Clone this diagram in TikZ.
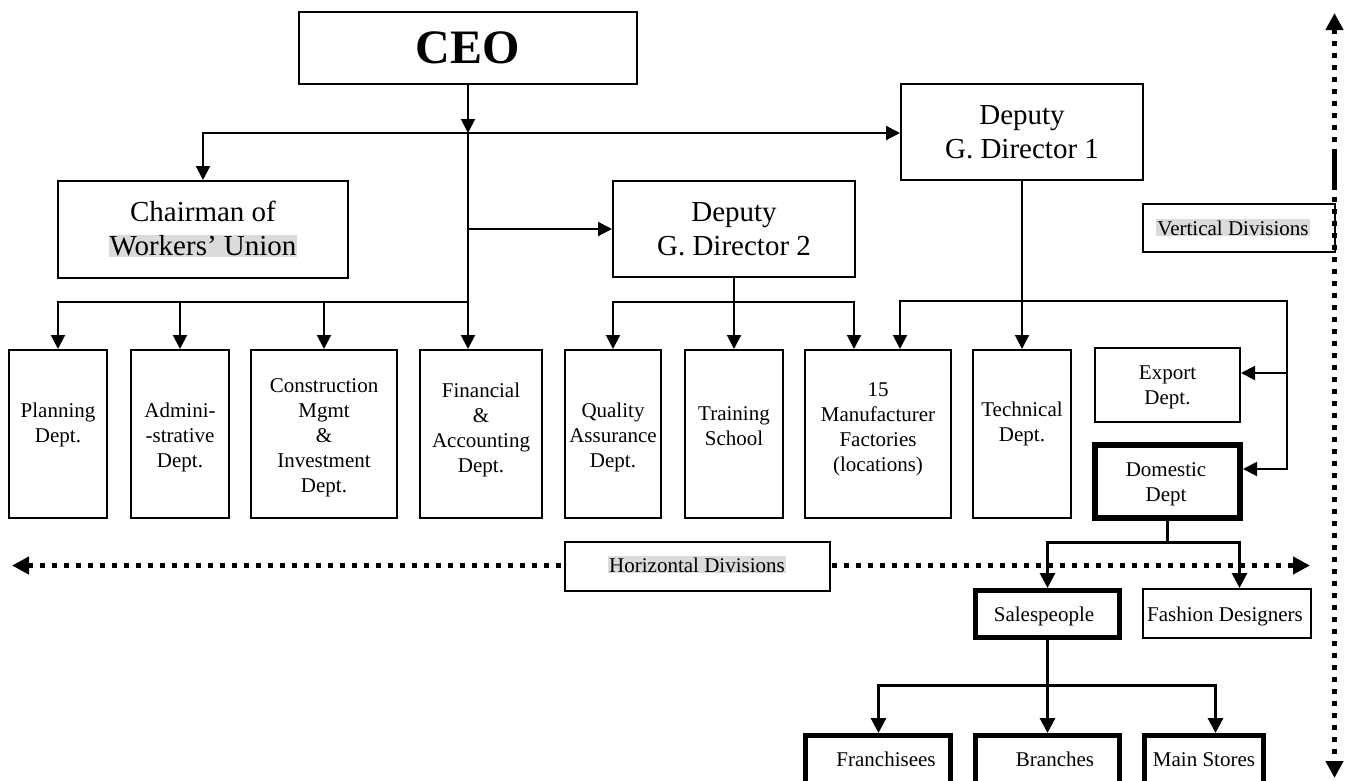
\documentclass[tikz,border=0pt]{standalone}
\usepackage{fontspec}
\setmainfont{Liberation Serif}
\usetikzlibrary{arrows.meta}
\newcommand\hlgray[1]{{\setlength\fboxsep{1pt}\colorbox{black!14}{#1}}}
\begin{document}
\begin{tikzpicture}[x=1pt,y=-1pt,
  box/.style={draw, line width=2pt, fill=white, inner sep=0pt, rectangle},
  tbox/.style={box, line width=5pt},
  conn/.style={line width=2pt},
  arr/.style={conn, -{Triangle[length=14pt,width=14pt]}},
  tconn/.style={line width=3pt},
  tarr/.style={tconn, -{Triangle[length=15pt,width=15pt]}},
  divline/.style={line width=5pt, dash pattern=on 5pt off 7pt, {Triangle[length=17pt,width=17pt]}-{Triangle[length=17pt,width=17pt]}},
  big/.style={font=\fontsize{29}{34}\selectfont, align=center},
  txt/.style={font=\fontsize{21}{25}\selectfont, align=center, inner sep=0pt},
]
\useasboundingbox (0,0) rectangle (1350,780);
\fill[white] (0,0) rectangle (1350,780);
\clip (0,0) rectangle (1350,780);

% ---- top level boxes
\node[box, minimum width=338pt, minimum height=72pt, font=\fontsize{48}{52}\selectfont\bfseries] (CEO) at (468,48) {CEO};
\node[box, big, minimum width=290pt, minimum height=97pt] (Chair) at (203,229.5) {Chairman of\\\hlgray{Workers’ Union}};
\node[box, big, minimum width=242pt, minimum height=96pt] (DGD1) at (1022,132) {Deputy\\G. Director 1};
\node[box, big, minimum width=242pt, minimum height=96pt] (DGD2) at (734,229) {Deputy\\G. Director 2};

% ---- department row
\node[box, minimum width=98pt, minimum height=168pt] (Plan) at (58,434) {};
\node[txt] (PlanT) at (58,424.5) {Planning\\Dept.};
\node[box, minimum width=98pt, minimum height=168pt] (Admin) at (180,434) {};
\node[txt] (AdminT) at (180,437) {Admini-\\-strative\\Dept.};
\node[box, minimum width=146pt, minimum height=168pt] (Constr) at (324,434) {};
\node[txt] (ConstrT) at (324,437.5) {Construction\\Mgmt\\\&\\Investment\\Dept.};
\node[box, minimum width=122pt, minimum height=168pt] (Fin) at (481,434) {};
\node[txt] (FinT) at (481,429.5) {Financial\\\&\\Accounting\\Dept.};
\node[box, minimum width=96pt, minimum height=168pt] (Qual) at (613,434) {};
\node[txt] (QualT) at (613,437) {Quality\\Assurance\\Dept.};
\node[box, minimum width=98pt, minimum height=168pt] (Train) at (734,434) {};
\node[txt] (TrainT) at (734,426) {Training\\School};
\node[box, minimum width=146pt, minimum height=168pt] (Manu) at (878,434) {};
\node[txt] (ManuT) at (878,429.5) {15\\Manufacturer\\Factories\\(locations)};
\node[box, minimum width=98pt, minimum height=168pt] (Tech) at (1022,434) {};
\node[txt] (TechT) at (1022,424) {Technical\\Dept.};
\node[box, minimum width=145pt, minimum height=74pt] (Export) at (1167.5,385) {};
\node[txt] (ExportT) at (1167.5,387.5) {Export\\Dept.};
\node[box, line width=6pt, minimum width=145pt, minimum height=73pt] (Dom) at (1167.5,481.5) {};
\node[txt] (DomT) at (1166,484.5) {Domestic\\Dept};

% ---- vertical divisions label and line
\node[box, minimum width=192pt, minimum height=48pt] (VDiv) at (1239,228) {};
\node[txt, anchor=base] (VDivT) at (1233,235) {\hlgray{Vertical Divisions}};
\coordinate (vt) at (1334.5,13);
\coordinate (vb) at (1334.5,778);
\coordinate (vs1) at (1334.5,152);
\coordinate (vs2) at (1334.5,185);
\draw[divline] (vt) -- (vb);
\draw[line width=5pt] (vs1) -- (vs2);

% ---- horizontal divisions line and label
\coordinate (hl) at (12,565.5);
\coordinate (hr) at (1310,565.5);
\draw[divline] (hl) -- (hr);
\node[box, minimum width=265pt, minimum height=49pt] (HDiv) at (697.5,566.5) {};
\node[txt, anchor=base] (HDivT) at (697,572) {\hlgray{Horizontal Divisions}};

% ---- lower boxes
\node[tbox, minimum width=144pt, minimum height=47pt] (Sales) at (1047.5,614) {};
\node[txt, anchor=base] (SalesT) at (1044,621) {Salespeople};
\node[box, minimum width=168pt, minimum height=49pt] (Fash) at (1227,613.5) {};
\node[txt, anchor=base] (FashT) at (1225,621) {Fashion Designers};
\node[tbox, minimum width=145pt, minimum height=94pt] (Fran) at (878,782.5) {};
\node[txt, anchor=base] (FranT) at (886,766) {Franchisees};
\node[tbox, minimum width=144pt, minimum height=94pt] (Bran) at (1047.5,782.5) {};
\node[txt, anchor=base] (BranT) at (1055,766) {Branches};
\node[tbox, minimum width=119pt, minimum height=94pt] (Main) at (1204,782.5) {};
\node[txt, anchor=base] (MainT) at (1204,766) {Main Stores};

% ---- connectors
\coordinate (j0) at (468,133);
\coordinate (j1) at (468,229);
\coordinate (j2) at (468,302);
\coordinate (r1) at (854,302);
\coordinate (s0) at (900,301);
\coordinate (s1) at (1287,301);
\coordinate (s2) at (1287,373);
\coordinate (s3) at (1287,469);
\coordinate (d0) at (1167.5,542.5);
\coordinate (d2) at (1239.5,542.5);
\coordinate (p0) at (1047.5,685.5);
\coordinate (p1) at (878.5,685.5);
\coordinate (p2) at (1215.5,685.5);

\draw[arr] (CEO.south) -- (j0);
\draw[arr] (j0) -- (Chair.north |- j0) -- (Chair.north);
\draw[arr] (j0) -- (DGD1.west |- j0);
\draw[arr] (j0) -- (j0 |- Fin.north);
\draw[arr] (j1) -- (DGD2.west);
\draw[arr] (j2) -- (Plan.north |- j2) -- (Plan.north);
\draw[arr] (Admin.north |- j2) -- (Admin.north);
\draw[arr] (Constr.north |- j2) -- (Constr.north);

\draw[arr] (DGD2.south) -- (Train.north);
\draw[arr] (DGD2.south |- j2) -- (Qual.north |- j2) -- (Qual.north);
\draw[arr] (DGD2.south |- j2) -- (r1) -- (r1 |- Manu.north);

\draw[arr] (DGD1.south) -- (Tech.north);
\draw[arr] (DGD1.south |- s0) -- (s0) -- (s0 |- Manu.north);
\draw[arr] (DGD1.south |- s0) -- (s1) -- (s2) -- (Export.east |- s2);
\draw[arr] (s2) -- (s3) -- (Dom.east |- s3);

\draw[tconn] (Dom.south) -- (d0);
\draw[tarr] (d0) -- (Sales.north |- d0) -- (Sales.north);
\draw[tarr] (d0) -- (d2) -- (d2 |- Fash.north);

\draw[tarr] (Sales.south) -- (Bran.north);
\draw[tarr] (p0) -- (p1) -- (p1 |- Fran.north);
\draw[tarr] (p0) -- (p2) -- (p2 |- Main.north);
\end{tikzpicture}
\end{document}
